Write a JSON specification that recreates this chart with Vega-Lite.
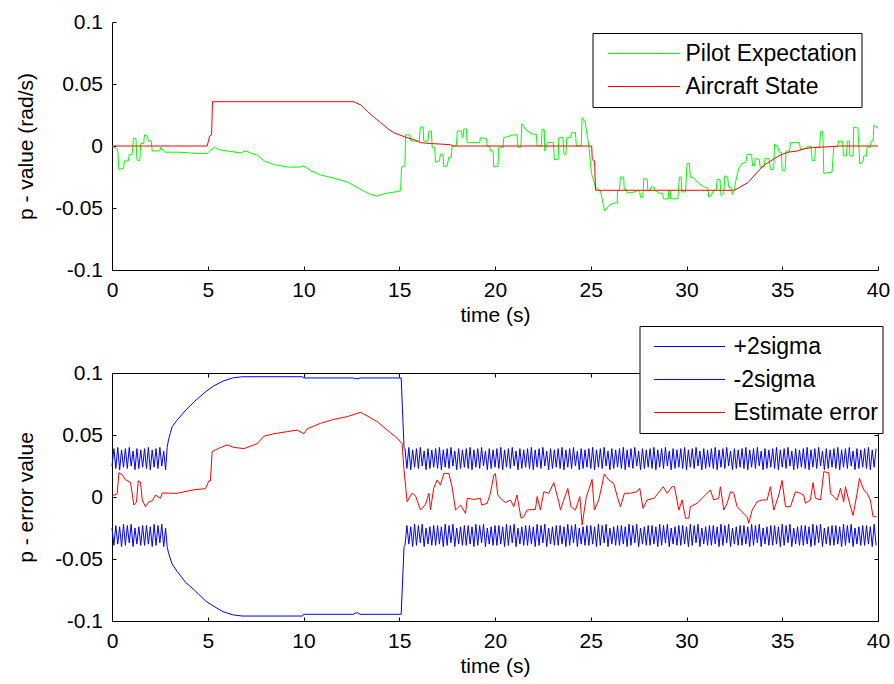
{
"$schema":"https://vega.github.io/schema/vega-lite/v6.json",
"padding":{"left":15,"top":11,"right":0,"bottom":0},
"background":"white",
"config":{
 "font":"Liberation Sans",
 "view":{"stroke":null},
 "axis":{"labelFont":"Liberation Sans","titleFont":"Liberation Sans","labelFontSize":21,"titleFontSize":21,"titleFontWeight":"normal","labelColor":"black","titleColor":"black","domainColor":"black","domainWidth":1,"tickColor":"black","tickWidth":1,"grid":false,"tickSize":-4,"labelPadding":13.5,"labelExpr":"'' + datum.value"},
 "axisX":{"titlePadding":4,"labelFlush":false},
 "axisY":{"titlePadding":18},
 "legend":{"orient":"none","symbolType":"stroke","symbolStrokeWidth":1,"labelFont":"Liberation Sans","labelFontSize":23,"labelColor":"black","padding":4,"strokeColor":"black","fillColor":"white","clipHeight":33,"rowPadding":0,"labelLimit":400,"cornerRadius":0}
},
"datasets":{
"pilot":[{"t":0,"v":0},{"t":0.2,"v":-0.002},{"t":0.3,"v":-0.003},{"t":0.36,"v":-0.019},{"t":0.6,"v":-0.018},{"t":0.65,"v":-0.012},{"t":0.85,"v":-0.012},{"t":0.9,"v":-0.007},{"t":1.05,"v":-0.007},{"t":1.12,"v":0.006},{"t":1.25,"v":0.006},{"t":1.3,"v":-0.011},{"t":1.45,"v":-0.012},{"t":1.5,"v":0.002},{"t":1.65,"v":0.002},{"t":1.7,"v":0.009},{"t":1.85,"v":0.008},{"t":1.9,"v":0.004},{"t":2.05,"v":0.004},{"t":2.1,"v":-0.004},{"t":2.5,"v":-0.004},{"t":2.55,"v":-0.001},{"t":2.65,"v":-0.003},{"t":2.75,"v":-0.005},{"t":3.5,"v":-0.005},{"t":4.0,"v":-0.0055},{"t":4.5,"v":-0.006},{"t":4.97,"v":-0.006},{"t":5.1,"v":-0.004},{"t":5.35,"v":-0.001},{"t":5.6,"v":-0.003},{"t":6.0,"v":-0.004},{"t":6.7,"v":-0.0055},{"t":7.0,"v":-0.004},{"t":7.3,"v":-0.006},{"t":7.6,"v":-0.0075},{"t":7.95,"v":-0.012},{"t":8.45,"v":-0.015},{"t":8.8,"v":-0.016},{"t":9.2,"v":-0.017},{"t":9.8,"v":-0.017},{"t":10.0,"v":-0.016},{"t":10.4,"v":-0.02},{"t":10.9,"v":-0.0234},{"t":11.6,"v":-0.026},{"t":12.3,"v":-0.029},{"t":12.98,"v":-0.035},{"t":13.5,"v":-0.039},{"t":13.85,"v":-0.0405},{"t":14.1,"v":-0.039},{"t":14.37,"v":-0.038},{"t":14.8,"v":-0.037},{"t":15.07,"v":-0.036},{"t":15.12,"v":-0.017},{"t":15.3,"v":-0.016},{"t":15.33,"v":0.009},{"t":15.55,"v":0.009},{"t":15.6,"v":0.004},{"t":16.05,"v":0.004},{"t":16.1,"v":0.0153},{"t":16.25,"v":0.0153},{"t":16.28,"v":0.004},{"t":16.5,"v":0.004},{"t":16.55,"v":0.012},{"t":16.68,"v":0.012},{"t":16.72,"v":-0.001},{"t":16.85,"v":-0.001},{"t":16.89,"v":-0.013},{"t":17.1,"v":-0.012},{"t":17.15,"v":-0.0067},{"t":17.28,"v":-0.0067},{"t":17.33,"v":-0.0167},{"t":17.5,"v":-0.016},{"t":17.59,"v":-0.009},{"t":17.72,"v":-0.009},{"t":17.76,"v":0},{"t":17.98,"v":0},{"t":18.03,"v":0.012},{"t":18.25,"v":0.012},{"t":18.29,"v":0.0067},{"t":18.33,"v":0.0067},{"t":18.37,"v":0.0137},{"t":18.5,"v":0.0137},{"t":18.55,"v":0.0027},{"t":19.2,"v":0.0027},{"t":19.24,"v":0.0067},{"t":19.55,"v":0.006},{"t":19.59,"v":0},{"t":19.72,"v":0},{"t":19.76,"v":-0.004},{"t":19.9,"v":-0.004},{"t":19.94,"v":-0.017},{"t":20.15,"v":-0.0163},{"t":20.2,"v":-0.001},{"t":20.42,"v":-0.001},{"t":20.46,"v":0.0067},{"t":20.95,"v":0.0089},{"t":21.15,"v":0.009},{"t":21.19,"v":-0.001},{"t":21.35,"v":-0.001},{"t":21.4,"v":0.018},{"t":21.6,"v":0.0134},{"t":21.95,"v":0.0096},{"t":22.15,"v":0.0096},{"t":22.2,"v":0},{"t":22.42,"v":0},{"t":22.46,"v":0.0134},{"t":22.57,"v":0.0134},{"t":22.6,"v":-0.004},{"t":22.75,"v":0.0027},{"t":23.05,"v":0.0027},{"t":23.1,"v":-0.011},{"t":23.3,"v":-0.011},{"t":23.33,"v":0.0067},{"t":23.55,"v":0.0067},{"t":23.6,"v":-0.0067},{"t":23.7,"v":-0.0067},{"t":23.75,"v":0.0067},{"t":23.95,"v":0.0067},{"t":24.0,"v":0.0107},{"t":24.2,"v":0.0107},{"t":24.25,"v":0},{"t":24.5,"v":0},{"t":24.55,"v":0.0228},{"t":24.7,"v":0.02},{"t":24.9,"v":0},{"t":25.04,"v":-0.0223},{"t":25.25,"v":-0.0333},{"t":25.5,"v":-0.036},{"t":25.73,"v":-0.0524},{"t":25.95,"v":-0.048},{"t":26.2,"v":-0.046},{"t":26.38,"v":-0.046},{"t":26.4,"v":-0.036},{"t":26.5,"v":-0.036},{"t":26.55,"v":-0.025},{"t":26.72,"v":-0.025},{"t":26.75,"v":-0.035},{"t":26.85,"v":-0.035},{"t":26.9,"v":-0.038},{"t":27.3,"v":-0.037},{"t":27.45,"v":-0.036},{"t":27.55,"v":-0.036},{"t":27.6,"v":-0.0413},{"t":27.72,"v":-0.0413},{"t":27.77,"v":-0.0262},{"t":27.95,"v":-0.027},{"t":27.98,"v":-0.036},{"t":28.1,"v":-0.036},{"t":28.15,"v":-0.033},{"t":28.3,"v":-0.033},{"t":28.35,"v":-0.036},{"t":28.5,"v":-0.037},{"t":28.55,"v":-0.038},{"t":28.75,"v":-0.038},{"t":28.8,"v":-0.0427},{"t":29.05,"v":-0.0427},{"t":29.07,"v":-0.036},{"t":29.15,"v":-0.036},{"t":29.18,"v":-0.0427},{"t":29.55,"v":-0.0425},{"t":29.63,"v":-0.025},{"t":29.72,"v":-0.025},{"t":29.76,"v":-0.037},{"t":29.95,"v":-0.037},{"t":30.03,"v":-0.0142},{"t":30.15,"v":-0.014},{"t":30.2,"v":-0.025},{"t":30.4,"v":-0.026},{"t":30.55,"v":-0.029},{"t":30.9,"v":-0.033},{"t":31.12,"v":-0.034},{"t":31.16,"v":-0.041},{"t":31.3,"v":-0.04},{"t":31.4,"v":-0.036},{"t":31.55,"v":-0.036},{"t":31.6,"v":-0.027},{"t":31.75,"v":-0.027},{"t":31.8,"v":-0.04},{"t":31.95,"v":-0.038},{"t":32.0,"v":-0.024},{"t":32.15,"v":-0.025},{"t":32.2,"v":-0.033},{"t":32.35,"v":-0.034},{"t":32.38,"v":-0.039},{"t":32.5,"v":-0.036},{"t":32.56,"v":-0.029},{"t":32.73,"v":-0.018},{"t":32.9,"v":-0.0142},{"t":33.1,"v":-0.013},{"t":33.17,"v":-0.0067},{"t":33.4,"v":-0.0067},{"t":33.45,"v":-0.016},{"t":33.55,"v":-0.016},{"t":33.6,"v":-0.01},{"t":33.8,"v":-0.011},{"t":33.85,"v":-0.017},{"t":34.05,"v":-0.017},{"t":34.1,"v":-0.01},{"t":34.3,"v":-0.01},{"t":34.4,"v":-0.019},{"t":34.55,"v":-0.019},{"t":34.6,"v":0.0014},{"t":34.75,"v":0},{"t":34.85,"v":-0.005},{"t":34.95,"v":-0.005},{"t":35.0,"v":-0.02},{"t":35.15,"v":-0.02},{"t":35.2,"v":-0.004},{"t":35.38,"v":-0.004},{"t":35.43,"v":0.0027},{"t":35.9,"v":0.0027},{"t":35.95,"v":-0.003},{"t":36.25,"v":-0.002},{"t":36.3,"v":-0.0003},{"t":36.5,"v":-0.0003},{"t":36.56,"v":-0.0118},{"t":36.7,"v":-0.0118},{"t":36.73,"v":-0.001},{"t":36.95,"v":-0.001},{"t":37.0,"v":0.0115},{"t":37.12,"v":0.0115},{"t":37.17,"v":-0.0221},{"t":37.6,"v":-0.021},{"t":37.69,"v":-0.001},{"t":37.9,"v":0},{"t":37.95,"v":0.004},{"t":38.15,"v":0.004},{"t":38.2,"v":-0.008},{"t":38.35,"v":-0.008},{"t":38.4,"v":0.004},{"t":38.5,"v":0.004},{"t":38.53,"v":-0.008},{"t":38.7,"v":-0.008},{"t":38.73,"v":0.0153},{"t":38.95,"v":0.0145},{"t":39.05,"v":-0.0145},{"t":39.2,"v":-0.013},{"t":39.26,"v":-0.008},{"t":39.4,"v":-0.008},{"t":39.43,"v":-0.001},{"t":39.6,"v":-0.001},{"t":39.64,"v":0.004},{"t":39.75,"v":0.004},{"t":39.78,"v":0.0167},{"t":39.9,"v":0.0155},{"t":40.0,"v":0.0145}],
"aircraft":[{"t":0,"v":0},{"t":4.97,"v":0},{"t":5.1,"v":0.008},{"t":5.2,"v":0.009},{"t":5.25,"v":0.0357},{"t":12.63,"v":0.0357},{"t":13.0,"v":0.033},{"t":13.33,"v":0.028},{"t":13.7,"v":0.023},{"t":14.02,"v":0.019},{"t":14.4,"v":0.014},{"t":14.72,"v":0.0107},{"t":15.0,"v":0.009},{"t":15.41,"v":0.0067},{"t":15.8,"v":0.005},{"t":16.11,"v":0.0027},{"t":16.63,"v":0.002},{"t":17.2,"v":0.0015},{"t":17.68,"v":0.001},{"t":17.8,"v":0},{"t":25.05,"v":0},{"t":25.08,"v":-0.011},{"t":25.2,"v":-0.012},{"t":25.25,"v":-0.0357},{"t":32.5,"v":-0.0357},{"t":33.2,"v":-0.0296},{"t":34.0,"v":-0.016},{"t":34.5,"v":-0.011},{"t":34.9,"v":-0.0073},{"t":35.3,"v":-0.005},{"t":35.8,"v":-0.004},{"t":36.2,"v":-0.002},{"t":36.6,"v":-0.0013},{"t":37.5,"v":-0.0005},{"t":38.0,"v":0},{"t":40.0,"v":0}],
"err":[{"t":0,"v":0.0008},{"t":0.27,"v":0.0026},{"t":0.36,"v":0.0196},{"t":0.53,"v":0.018},{"t":0.7,"v":0.014},{"t":0.97,"v":0.0118},{"t":1.14,"v":-0.0065},{"t":1.28,"v":-0.004},{"t":1.37,"v":0.013},{"t":1.49,"v":0.012},{"t":1.58,"v":-0.0024},{"t":1.75,"v":-0.0078},{"t":1.92,"v":-0.004},{"t":2.1,"v":-0.003},{"t":2.27,"v":0.0016},{"t":2.53,"v":-0.001},{"t":2.62,"v":0.0032},{"t":3.4,"v":0.003},{"t":4.27,"v":0.0058},{"t":4.88,"v":0.0067},{"t":5.06,"v":0.013},{"t":5.14,"v":0.013},{"t":5.23,"v":0.0366},{"t":5.58,"v":0.0393},{"t":6.01,"v":0.042},{"t":6.36,"v":0.04},{"t":6.89,"v":0.039},{"t":7.58,"v":0.043},{"t":7.93,"v":0.049},{"t":8.45,"v":0.051},{"t":9.15,"v":0.0527},{"t":9.67,"v":0.054},{"t":10.02,"v":0.051},{"t":10.19,"v":0.055},{"t":10.89,"v":0.0594},{"t":11.58,"v":0.0626},{"t":12.28,"v":0.0648},{"t":12.98,"v":0.0683},{"t":13.33,"v":0.0653},{"t":13.85,"v":0.0608},{"t":14.37,"v":0.054},{"t":14.9,"v":0.0473},{"t":15.15,"v":0.043},{"t":15.24,"v":0.0232},{"t":15.41,"v":-0.0038},{"t":15.67,"v":0.003},{"t":15.85,"v":0.001},{"t":16.11,"v":-0.0105},{"t":16.37,"v":-0.006},{"t":16.55,"v":0.003},{"t":16.63,"v":-0.0105},{"t":16.8,"v":0.007},{"t":16.98,"v":0.0137},{"t":17.15,"v":0.0097},{"t":17.33,"v":0.019},{"t":17.59,"v":0.019},{"t":17.76,"v":0.0081},{"t":17.94,"v":-0.0105},{"t":18.2,"v":-0.0065},{"t":18.46,"v":-0.0132},{"t":18.55,"v":-0.001},{"t":18.9,"v":-0.002},{"t":19.24,"v":-0.001},{"t":19.3,"v":-0.0065},{"t":19.59,"v":-0.0051},{"t":19.76,"v":0.003},{"t":19.94,"v":0.0177},{"t":20.02,"v":0.019},{"t":20.14,"v":0.0019},{"t":20.28,"v":-0.001},{"t":20.55,"v":-0.0045},{"t":20.81,"v":-0.0024},{"t":20.98,"v":-0.0078},{"t":21.15,"v":0.0016},{"t":21.36,"v":-0.0171},{"t":21.5,"v":-0.016},{"t":21.68,"v":-0.0105},{"t":22.11,"v":-0.01},{"t":22.2,"v":0.0003},{"t":22.37,"v":-0.0105},{"t":22.55,"v":0.0042},{"t":22.81,"v":0.003},{"t":23.07,"v":0.0116},{"t":23.33,"v":-0.0038},{"t":23.42,"v":-0.0105},{"t":23.59,"v":-0.0024},{"t":23.8,"v":0.0069},{"t":23.97,"v":-0.0079},{"t":24.2,"v":-0.0105},{"t":24.43,"v":0.0003},{"t":24.55,"v":-0.0225},{"t":24.77,"v":0.0003},{"t":24.9,"v":0.006},{"t":25.07,"v":0.0142},{"t":25.19,"v":-0.0105},{"t":25.42,"v":-0.0024},{"t":25.71,"v":0.0185},{"t":25.94,"v":0.0137},{"t":26.2,"v":0.011},{"t":26.41,"v":-0.001},{"t":26.55,"v":-0.0078},{"t":26.76,"v":0.003},{"t":27.07,"v":0.003},{"t":27.42,"v":0.0043},{"t":27.56,"v":0.007},{"t":27.73,"v":-0.0092},{"t":27.94,"v":-0.0024},{"t":28.33,"v":-0.001},{"t":28.38,"v":0.0003},{"t":28.78,"v":0.0083},{"t":28.99,"v":0.003},{"t":29.25,"v":0.0083},{"t":29.37,"v":0.0083},{"t":29.6,"v":-0.0105},{"t":29.77,"v":-0.0024},{"t":29.95,"v":-0.0171},{"t":30.12,"v":-0.0171},{"t":30.2,"v":-0.0078},{"t":30.55,"v":-0.0051},{"t":31.08,"v":0.003},{"t":31.25,"v":0.0057},{"t":31.42,"v":-0.0024},{"t":31.68,"v":-0.001},{"t":31.77,"v":0.0083},{"t":31.95,"v":-0.0105},{"t":32.12,"v":-0.0051},{"t":32.3,"v":0.0043},{"t":32.47,"v":0.003},{"t":32.64,"v":-0.0078},{"t":32.99,"v":-0.0132},{"t":33.17,"v":-0.016},{"t":33.25,"v":-0.0212},{"t":33.43,"v":-0.0105},{"t":33.69,"v":-0.0038},{"t":33.95,"v":-0.0024},{"t":34.21,"v":-0.0024},{"t":34.38,"v":0.0083},{"t":34.56,"v":-0.0105},{"t":34.82,"v":0.0016},{"t":34.99,"v":0.0134},{"t":35.17,"v":-0.0078},{"t":35.43,"v":-0.0078},{"t":35.69,"v":0.0043},{"t":35.95,"v":0.003},{"t":36.12,"v":0.0016},{"t":36.21,"v":-0.0051},{"t":36.47,"v":-0.0024},{"t":36.61,"v":0.0116},{"t":36.73,"v":-0.001},{"t":37.0,"v":-0.0024},{"t":37.17,"v":0.0204},{"t":37.43,"v":0.0196},{"t":37.52,"v":0.003},{"t":37.69,"v":0.0003},{"t":37.87,"v":-0.0024},{"t":38.04,"v":0.007},{"t":38.21,"v":-0.0038},{"t":38.3,"v":0.0083},{"t":38.47,"v":-0.0024},{"t":38.7,"v":-0.0148},{"t":38.91,"v":0.003},{"t":39.03,"v":0.015},{"t":39.26,"v":0.0057},{"t":39.43,"v":0.003},{"t":39.6,"v":-0.0024},{"t":39.74,"v":-0.0159},{"t":39.92,"v":-0.0159}],
"sig":[{"t":0,"p":0.025,"m":-0.025},
{"t":0.1,"p":0.039,"m":-0.039},{"t":0.2,"p":0.023,"m":-0.023},{"t":0.3,"p":0.04,"m":-0.038},{"t":0.4,"p":0.022,"m":-0.024},{"t":0.5,"p":0.038,"m":-0.04},{"t":0.6,"p":0.024,"m":-0.022},{"t":0.7,"p":0.039,"m":-0.039},{"t":0.8,"p":0.023,"m":-0.023},{"t":0.9,"p":0.04,"m":-0.037},{"t":1.0,"p":0.025,"m":-0.022},{"t":1.1,"p":0.037,"m":-0.04},{"t":1.2,"p":0.022,"m":-0.025},{"t":1.3,"p":0.039,"m":-0.038},{"t":1.4,"p":0.023,"m":-0.024},{"t":1.5,"p":0.038,"m":-0.039},{"t":1.6,"p":0.024,"m":-0.023},
{"t":1.7,"p":0.039,"m":-0.039},{"t":1.8,"p":0.023,"m":-0.023},{"t":1.9,"p":0.04,"m":-0.038},{"t":2.0,"p":0.022,"m":-0.024},{"t":2.1,"p":0.038,"m":-0.04},{"t":2.2,"p":0.024,"m":-0.022},{"t":2.3,"p":0.039,"m":-0.039},{"t":2.4,"p":0.023,"m":-0.023},{"t":2.5,"p":0.04,"m":-0.037},{"t":2.6,"p":0.025,"m":-0.022},{"t":2.7,"p":0.037,"m":-0.04},{"t":2.8,"p":0.022,"m":-0.025},
{"t":2.88,"p":0.04,"m":-0.04},{"t":2.95,"p":0.046,"m":-0.045},{"t":3.05,"p":0.052,"m":-0.05},{"t":3.14,"p":0.0567,"m":-0.054},{"t":3.4,"p":0.062,"m":-0.06},{"t":3.85,"p":0.07,"m":-0.069},{"t":4.3,"p":0.077,"m":-0.075},{"t":4.9,"p":0.085,"m":-0.084},{"t":5.3,"p":0.0895,"m":-0.088},{"t":5.8,"p":0.0935,"m":-0.0925},{"t":6.3,"p":0.096,"m":-0.095},{"t":6.8,"p":0.097,"m":-0.096},{"t":9.95,"p":0.097,"m":-0.096},{"t":10.0,"p":0.096,"m":-0.0946},{"t":12.6,"p":0.096,"m":-0.0946},{"t":12.7,"p":0.0955,"m":-0.0935},{"t":12.85,"p":0.0955,"m":-0.0935},{"t":12.95,"p":0.096,"m":-0.0946},{"t":15.1,"p":0.096,"m":-0.0946},{"t":15.25,"p":0.04,"m":-0.04},
{"t":15.3,"p":0.039,"m":-0.039},{"t":15.4,"p":0.023,"m":-0.023},{"t":15.5,"p":0.04,"m":-0.038},{"t":15.6,"p":0.022,"m":-0.024},{"t":15.7,"p":0.038,"m":-0.04},{"t":15.8,"p":0.024,"m":-0.022},{"t":15.9,"p":0.039,"m":-0.039},{"t":16.0,"p":0.023,"m":-0.023},{"t":16.1,"p":0.04,"m":-0.037},{"t":16.2,"p":0.025,"m":-0.022},{"t":16.3,"p":0.037,"m":-0.04},{"t":16.4,"p":0.022,"m":-0.025},{"t":16.5,"p":0.039,"m":-0.038},{"t":16.6,"p":0.023,"m":-0.024},{"t":16.7,"p":0.038,"m":-0.039},{"t":16.8,"p":0.024,"m":-0.023},
{"t":16.9,"p":0.039,"m":-0.039},{"t":17.0,"p":0.023,"m":-0.023},{"t":17.1,"p":0.04,"m":-0.038},{"t":17.2,"p":0.022,"m":-0.024},{"t":17.3,"p":0.038,"m":-0.04},{"t":17.4,"p":0.024,"m":-0.022},{"t":17.5,"p":0.039,"m":-0.039},{"t":17.6,"p":0.023,"m":-0.023},{"t":17.7,"p":0.04,"m":-0.037},{"t":17.8,"p":0.025,"m":-0.022},{"t":17.9,"p":0.037,"m":-0.04},{"t":18.0,"p":0.022,"m":-0.025},{"t":18.1,"p":0.039,"m":-0.038},{"t":18.2,"p":0.023,"m":-0.024},{"t":18.3,"p":0.038,"m":-0.039},{"t":18.4,"p":0.024,"m":-0.023},
{"t":18.5,"p":0.039,"m":-0.039},{"t":18.6,"p":0.023,"m":-0.023},{"t":18.7,"p":0.04,"m":-0.038},{"t":18.8,"p":0.022,"m":-0.024},{"t":18.9,"p":0.038,"m":-0.04},{"t":19.0,"p":0.024,"m":-0.022},{"t":19.1,"p":0.039,"m":-0.039},{"t":19.2,"p":0.023,"m":-0.023},{"t":19.3,"p":0.04,"m":-0.037},{"t":19.4,"p":0.025,"m":-0.022},{"t":19.5,"p":0.037,"m":-0.04},{"t":19.6,"p":0.022,"m":-0.025},{"t":19.7,"p":0.039,"m":-0.038},{"t":19.8,"p":0.023,"m":-0.024},{"t":19.9,"p":0.038,"m":-0.039},{"t":20.0,"p":0.024,"m":-0.023},
{"t":20.1,"p":0.039,"m":-0.039},{"t":20.2,"p":0.023,"m":-0.023},{"t":20.3,"p":0.04,"m":-0.038},{"t":20.4,"p":0.022,"m":-0.024},{"t":20.5,"p":0.038,"m":-0.04},{"t":20.6,"p":0.024,"m":-0.022},{"t":20.7,"p":0.039,"m":-0.039},{"t":20.8,"p":0.023,"m":-0.023},{"t":20.9,"p":0.04,"m":-0.037},{"t":21.0,"p":0.025,"m":-0.022},{"t":21.1,"p":0.037,"m":-0.04},{"t":21.2,"p":0.022,"m":-0.025},{"t":21.3,"p":0.039,"m":-0.038},{"t":21.4,"p":0.023,"m":-0.024},{"t":21.5,"p":0.038,"m":-0.039},{"t":21.6,"p":0.024,"m":-0.023},
{"t":21.7,"p":0.039,"m":-0.039},{"t":21.8,"p":0.023,"m":-0.023},{"t":21.9,"p":0.04,"m":-0.038},{"t":22.0,"p":0.022,"m":-0.024},{"t":22.1,"p":0.038,"m":-0.04},{"t":22.2,"p":0.024,"m":-0.022},{"t":22.3,"p":0.039,"m":-0.039},{"t":22.4,"p":0.023,"m":-0.023},{"t":22.5,"p":0.04,"m":-0.037},{"t":22.6,"p":0.025,"m":-0.022},{"t":22.7,"p":0.037,"m":-0.04},{"t":22.8,"p":0.022,"m":-0.025},{"t":22.9,"p":0.039,"m":-0.038},{"t":23.0,"p":0.023,"m":-0.024},{"t":23.1,"p":0.038,"m":-0.039},{"t":23.2,"p":0.024,"m":-0.023},
{"t":23.3,"p":0.039,"m":-0.039},{"t":23.4,"p":0.023,"m":-0.023},{"t":23.5,"p":0.04,"m":-0.038},{"t":23.6,"p":0.022,"m":-0.024},{"t":23.7,"p":0.038,"m":-0.04},{"t":23.8,"p":0.024,"m":-0.022},{"t":23.9,"p":0.039,"m":-0.039},{"t":24.0,"p":0.023,"m":-0.023},{"t":24.1,"p":0.04,"m":-0.037},{"t":24.2,"p":0.025,"m":-0.022},{"t":24.3,"p":0.037,"m":-0.04},{"t":24.4,"p":0.022,"m":-0.025},{"t":24.5,"p":0.039,"m":-0.038},{"t":24.6,"p":0.023,"m":-0.024},{"t":24.7,"p":0.038,"m":-0.039},{"t":24.8,"p":0.024,"m":-0.023},
{"t":24.9,"p":0.039,"m":-0.039},{"t":25.0,"p":0.023,"m":-0.023},{"t":25.1,"p":0.04,"m":-0.038},{"t":25.2,"p":0.022,"m":-0.024},{"t":25.3,"p":0.038,"m":-0.04},{"t":25.4,"p":0.024,"m":-0.022},{"t":25.5,"p":0.039,"m":-0.039},{"t":25.6,"p":0.023,"m":-0.023},{"t":25.7,"p":0.04,"m":-0.037},{"t":25.8,"p":0.025,"m":-0.022},{"t":25.9,"p":0.037,"m":-0.04},{"t":26.0,"p":0.022,"m":-0.025},{"t":26.1,"p":0.039,"m":-0.038},{"t":26.2,"p":0.023,"m":-0.024},{"t":26.3,"p":0.038,"m":-0.039},{"t":26.4,"p":0.024,"m":-0.023},
{"t":26.5,"p":0.039,"m":-0.039},{"t":26.6,"p":0.023,"m":-0.023},{"t":26.7,"p":0.04,"m":-0.038},{"t":26.8,"p":0.022,"m":-0.024},{"t":26.9,"p":0.038,"m":-0.04},{"t":27.0,"p":0.024,"m":-0.022},{"t":27.1,"p":0.039,"m":-0.039},{"t":27.2,"p":0.023,"m":-0.023},{"t":27.3,"p":0.04,"m":-0.037},{"t":27.4,"p":0.025,"m":-0.022},{"t":27.5,"p":0.037,"m":-0.04},{"t":27.6,"p":0.022,"m":-0.025},{"t":27.7,"p":0.039,"m":-0.038},{"t":27.8,"p":0.023,"m":-0.024},{"t":27.9,"p":0.038,"m":-0.039},{"t":28.0,"p":0.024,"m":-0.023},
{"t":28.1,"p":0.039,"m":-0.039},{"t":28.2,"p":0.023,"m":-0.023},{"t":28.3,"p":0.04,"m":-0.038},{"t":28.4,"p":0.022,"m":-0.024},{"t":28.5,"p":0.038,"m":-0.04},{"t":28.6,"p":0.024,"m":-0.022},{"t":28.7,"p":0.039,"m":-0.039},{"t":28.8,"p":0.023,"m":-0.023},{"t":28.9,"p":0.04,"m":-0.037},{"t":29.0,"p":0.025,"m":-0.022},{"t":29.1,"p":0.037,"m":-0.04},{"t":29.2,"p":0.022,"m":-0.025},{"t":29.3,"p":0.039,"m":-0.038},{"t":29.4,"p":0.023,"m":-0.024},{"t":29.5,"p":0.038,"m":-0.039},{"t":29.6,"p":0.024,"m":-0.023},
{"t":29.7,"p":0.039,"m":-0.039},{"t":29.8,"p":0.023,"m":-0.023},{"t":29.9,"p":0.04,"m":-0.038},{"t":30.0,"p":0.022,"m":-0.024},{"t":30.1,"p":0.038,"m":-0.04},{"t":30.2,"p":0.024,"m":-0.022},{"t":30.3,"p":0.039,"m":-0.039},{"t":30.4,"p":0.023,"m":-0.023},{"t":30.5,"p":0.04,"m":-0.037},{"t":30.6,"p":0.025,"m":-0.022},{"t":30.7,"p":0.037,"m":-0.04},{"t":30.8,"p":0.022,"m":-0.025},{"t":30.9,"p":0.039,"m":-0.038},{"t":31.0,"p":0.023,"m":-0.024},{"t":31.1,"p":0.038,"m":-0.039},{"t":31.2,"p":0.024,"m":-0.023},
{"t":31.3,"p":0.039,"m":-0.039},{"t":31.4,"p":0.023,"m":-0.023},{"t":31.5,"p":0.04,"m":-0.038},{"t":31.6,"p":0.022,"m":-0.024},{"t":31.7,"p":0.038,"m":-0.04},{"t":31.8,"p":0.024,"m":-0.022},{"t":31.9,"p":0.039,"m":-0.039},{"t":32.0,"p":0.023,"m":-0.023},{"t":32.1,"p":0.04,"m":-0.037},{"t":32.2,"p":0.025,"m":-0.022},{"t":32.3,"p":0.037,"m":-0.04},{"t":32.4,"p":0.022,"m":-0.025},{"t":32.5,"p":0.039,"m":-0.038},{"t":32.6,"p":0.023,"m":-0.024},{"t":32.7,"p":0.038,"m":-0.039},{"t":32.8,"p":0.024,"m":-0.023},
{"t":32.9,"p":0.039,"m":-0.039},{"t":33.0,"p":0.023,"m":-0.023},{"t":33.1,"p":0.04,"m":-0.038},{"t":33.2,"p":0.022,"m":-0.024},{"t":33.3,"p":0.038,"m":-0.04},{"t":33.4,"p":0.024,"m":-0.022},{"t":33.5,"p":0.039,"m":-0.039},{"t":33.6,"p":0.023,"m":-0.023},{"t":33.7,"p":0.04,"m":-0.037},{"t":33.8,"p":0.025,"m":-0.022},{"t":33.9,"p":0.037,"m":-0.04},{"t":34.0,"p":0.022,"m":-0.025},{"t":34.1,"p":0.039,"m":-0.038},{"t":34.2,"p":0.023,"m":-0.024},{"t":34.3,"p":0.038,"m":-0.039},{"t":34.4,"p":0.024,"m":-0.023},
{"t":34.5,"p":0.039,"m":-0.039},{"t":34.6,"p":0.023,"m":-0.023},{"t":34.7,"p":0.04,"m":-0.038},{"t":34.8,"p":0.022,"m":-0.024},{"t":34.9,"p":0.038,"m":-0.04},{"t":35.0,"p":0.024,"m":-0.022},{"t":35.1,"p":0.039,"m":-0.039},{"t":35.2,"p":0.023,"m":-0.023},{"t":35.3,"p":0.04,"m":-0.037},{"t":35.4,"p":0.025,"m":-0.022},{"t":35.5,"p":0.037,"m":-0.04},{"t":35.6,"p":0.022,"m":-0.025},{"t":35.7,"p":0.039,"m":-0.038},{"t":35.8,"p":0.023,"m":-0.024},{"t":35.9,"p":0.038,"m":-0.039},{"t":36.0,"p":0.024,"m":-0.023},
{"t":36.1,"p":0.039,"m":-0.039},{"t":36.2,"p":0.023,"m":-0.023},{"t":36.3,"p":0.04,"m":-0.038},{"t":36.4,"p":0.022,"m":-0.024},{"t":36.5,"p":0.038,"m":-0.04},{"t":36.6,"p":0.024,"m":-0.022},{"t":36.7,"p":0.039,"m":-0.039},{"t":36.8,"p":0.023,"m":-0.023},{"t":36.9,"p":0.04,"m":-0.037},{"t":37.0,"p":0.025,"m":-0.022},{"t":37.1,"p":0.037,"m":-0.04},{"t":37.2,"p":0.022,"m":-0.025},{"t":37.3,"p":0.039,"m":-0.038},{"t":37.4,"p":0.023,"m":-0.024},{"t":37.5,"p":0.038,"m":-0.039},{"t":37.6,"p":0.024,"m":-0.023},
{"t":37.7,"p":0.039,"m":-0.039},{"t":37.8,"p":0.023,"m":-0.023},{"t":37.9,"p":0.04,"m":-0.038},{"t":38.0,"p":0.022,"m":-0.024},{"t":38.1,"p":0.038,"m":-0.04},{"t":38.2,"p":0.024,"m":-0.022},{"t":38.3,"p":0.039,"m":-0.039},{"t":38.4,"p":0.023,"m":-0.023},{"t":38.5,"p":0.04,"m":-0.037},{"t":38.6,"p":0.025,"m":-0.022},{"t":38.7,"p":0.037,"m":-0.04},{"t":38.8,"p":0.022,"m":-0.025},{"t":38.9,"p":0.039,"m":-0.038},{"t":39.0,"p":0.023,"m":-0.024},{"t":39.1,"p":0.038,"m":-0.039},{"t":39.2,"p":0.024,"m":-0.023},
{"t":39.3,"p":0.039,"m":-0.039},{"t":39.4,"p":0.023,"m":-0.023},{"t":39.5,"p":0.04,"m":-0.038},{"t":39.6,"p":0.022,"m":-0.024},{"t":39.7,"p":0.038,"m":-0.04},{"t":39.8,"p":0.024,"m":-0.022},{"t":39.9,"p":0.039,"m":-0.039}]
},
"spacing":103,
"bounds":"flush",
"resolve":{"scale":{"color":"independent"}},
"vconcat":[
{
 "width":766,"height":248,
 "layer":[
  {"data":{"name":"pilot"},"mark":{"type":"line","strokeWidth":1},
   "encoding":{
    "x":{"field":"t","type":"quantitative","scale":{"domain":[0,40],"nice":false},"axis":{"values":[0,5,10,15,20,25,30,35,40],"title":"time (s)"}},
    "y":{"field":"v","type":"quantitative","scale":{"domain":[-0.1,0.1],"nice":false},"axis":{"values":[-0.1,-0.05,0,0.05,0.1],"title":"p - value (rad/s)"}},
    "color":{"datum":"Pilot Expectation","scale":{"domain":["Pilot Expectation","Aircraft State"],"range":["#00ff00","#ff0000"]},"legend":{"title":null,"legendX":480.5,"legendY":11,"symbolSize":5184,"symbolOffset":11,"labelOffset":5}}
   }},
  {"data":{"name":"aircraft"},"mark":{"type":"line","strokeWidth":1},
   "encoding":{
    "x":{"field":"t","type":"quantitative"},
    "y":{"field":"v","type":"quantitative"},
    "color":{"datum":"Aircraft State"}
   }}
 ]
},
{
 "width":766,"height":248,
 "resolve":{"axis":{"x":"independent","y":"independent"}},
 "layer":[
  {"data":{"name":"sig"},"mark":{"type":"line","strokeWidth":1},
   "encoding":{
    "x":{"field":"t","type":"quantitative","scale":{"domain":[0,40],"nice":false},"axis":{"values":[0,5,10,15,20,25,30,35,40],"title":"time (s)"}},
    "y":{"field":"p","type":"quantitative","scale":{"domain":[-0.1,0.1],"nice":false},"axis":{"values":[-0.1,-0.05,0,0.05,0.1],"title":"p - error value"}},
    "color":{"datum":"+2sigma","scale":{"domain":["+2sigma","-2sigma","Estimate error"],"range":["#0000ff","#0000ff","#ff0000"]},"legend":{"title":null,"legendX":527.5,"legendY":-47,"symbolSize":5041,"symbolOffset":10,"labelOffset":8}}
   }},
  {"data":{"name":"sig"},"mark":{"type":"line","strokeWidth":1},
   "encoding":{
    "x":{"field":"t","type":"quantitative","axis":{"orient":"top","values":[0,5,10,15,20,25,30,35,40],"labels":false,"title":null}},
    "y":{"field":"m","type":"quantitative","axis":{"orient":"right","values":[-0.1,-0.05,0,0.05,0.1],"labels":false,"title":null}},
    "color":{"datum":"-2sigma"}
   }},
  {"data":{"name":"err"},"mark":{"type":"line","strokeWidth":1},
   "encoding":{
    "x":{"field":"t","type":"quantitative","axis":null},
    "y":{"field":"v","type":"quantitative","axis":null},
    "color":{"datum":"Estimate error"}
   }}
 ]
}
]
}
